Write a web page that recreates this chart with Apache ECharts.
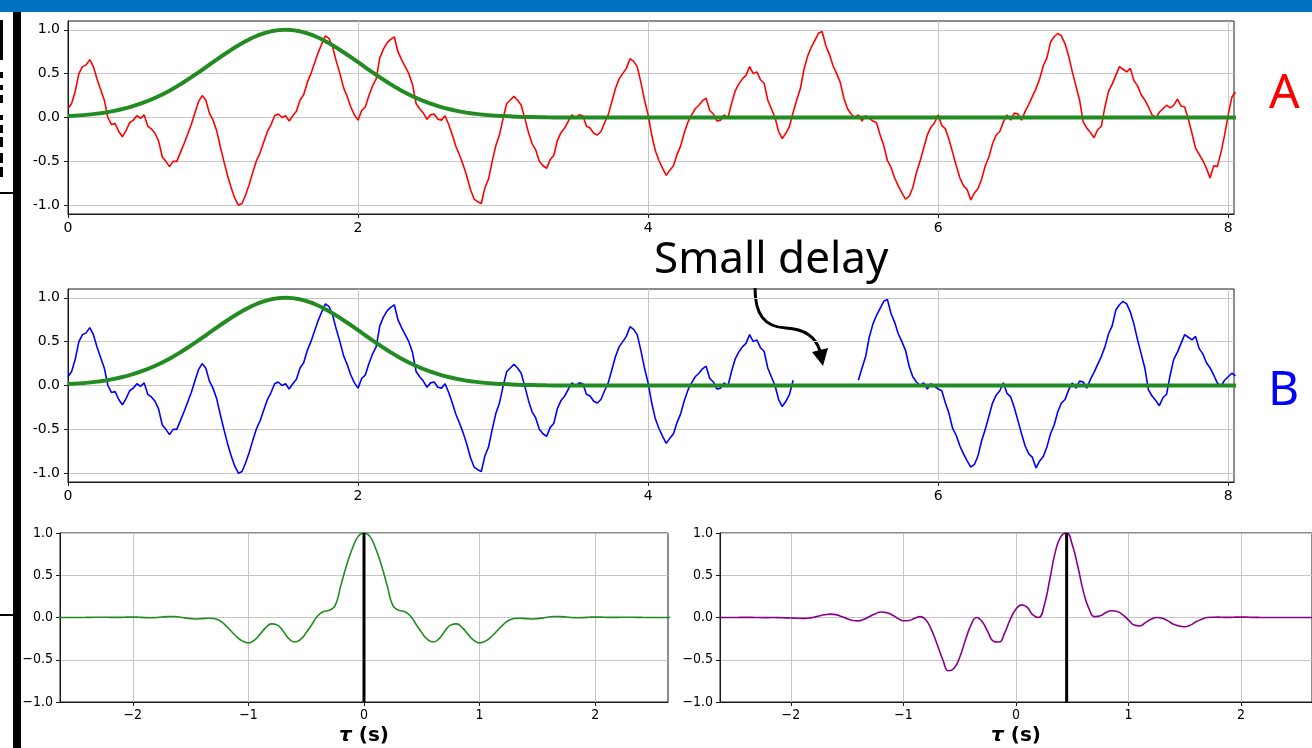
<!DOCTYPE html>
<html>
<head>
<meta charset="utf-8">
<script src="https://cdn.jsdelivr.net/npm/echarts@6/dist/echarts.min.js"></script>
<style>
  html, body { margin: 0; padding: 0; background: #ffffff; }
  #chart { width: 1312px; height: 748px; }
</style>
</head>
<body>
<div id="chart"></div>
<script>
// ---- signal A, sampled every dt seconds from t = 0 ----
const dt = 0.025;
const sigA = [
  0.10,0.16,0.30,0.50,0.58,0.60,0.66,0.58,0.44,0.32,0.20,0.00,-0.08,-0.07,-0.16,-0.22,-0.15,-0.06,-0.03,0.02,
  -0.01,0.03,-0.10,-0.13,-0.18,-0.27,-0.45,-0.50,-0.56,-0.50,-0.50,-0.40,-0.30,-0.19,-0.08,0.05,0.18,0.25,0.20,0.05,
  -0.03,-0.15,-0.33,-0.50,-0.66,-0.80,-0.92,-1.00,-0.98,-0.88,-0.76,-0.62,-0.49,-0.40,-0.28,-0.16,-0.08,0.02,0.04,0.00,
  0.02,-0.04,0.02,0.07,0.20,0.26,0.40,0.50,0.62,0.74,0.84,0.93,0.90,0.80,0.64,0.50,0.34,0.24,0.12,0.03,
  -0.03,0.08,0.12,0.25,0.36,0.44,0.68,0.78,0.85,0.89,0.92,0.75,0.66,0.58,0.50,0.38,0.16,0.10,0.05,-0.02,
  0.03,0.04,-0.02,-0.03,0.02,-0.08,-0.20,-0.33,-0.43,-0.54,-0.67,-0.82,-0.93,-0.96,-0.98,-0.80,-0.70,-0.50,-0.32,-0.20,
  -0.01,0.16,0.20,0.24,0.20,0.14,-0.01,-0.17,-0.30,-0.37,-0.50,-0.55,-0.58,-0.48,-0.43,-0.26,-0.17,-0.12,-0.04,0.03,
  -0.01,0.03,0.02,-0.10,-0.12,-0.18,-0.20,-0.16,-0.06,0.03,0.18,0.33,0.44,0.50,0.56,0.67,0.64,0.58,0.40,0.20,
  0.03,-0.20,-0.38,-0.49,-0.58,-0.66,-0.60,-0.55,-0.42,-0.32,-0.17,-0.05,0.03,0.10,0.14,0.19,0.22,0.08,0.04,-0.04,
  -0.03,0.03,-0.01,0.16,0.30,0.38,0.44,0.48,0.58,0.50,0.52,0.43,0.39,0.20,0.10,0.00,-0.16,-0.24,-0.18,-0.10,
  0.06,0.20,0.33,0.55,0.70,0.80,0.88,0.96,0.98,0.82,0.72,0.59,0.50,0.40,0.22,0.10,0.04,0.00,0.03,-0.04,
  0.02,-0.01,-0.04,-0.06,-0.20,-0.32,-0.49,-0.57,-0.69,-0.78,-0.86,-0.93,-0.90,-0.80,-0.63,-0.50,-0.35,-0.20,-0.11,-0.06,
  0.03,-0.09,-0.13,-0.25,-0.40,-0.55,-0.69,-0.78,-0.82,-0.94,-0.86,-0.81,-0.70,-0.55,-0.45,-0.30,-0.20,-0.16,-0.05,0.03,
  -0.03,0.05,0.04,-0.03,0.07,0.15,0.24,0.33,0.44,0.59,0.68,0.86,0.92,0.96,0.93,0.84,0.70,0.52,0.36,0.20,
  -0.05,-0.12,-0.17,-0.23,-0.14,-0.10,0.12,0.30,0.38,0.48,0.58,0.55,0.52,0.56,0.42,0.36,0.26,0.20,0.12,0.03,
  -0.01,0.06,0.10,0.14,0.11,0.14,0.21,0.13,0.12,-0.02,-0.18,-0.35,-0.42,-0.49,-0.58,-0.69,-0.55,-0.56,-0.40,-0.20,
  0.03,0.23,0.29
];

// ---- signal B: first part from t = 0, second part (after the gap) from bLateStart ----
const sigBEarly = [
  0.10,0.16,0.30,0.50,0.58,0.60,0.66,0.58,0.44,0.32,0.20,0.00,-0.08,-0.07,-0.16,-0.22,-0.15,-0.06,-0.03,0.02,
  -0.01,0.03,-0.10,-0.13,-0.18,-0.27,-0.45,-0.50,-0.56,-0.50,-0.50,-0.40,-0.30,-0.19,-0.08,0.05,0.18,0.25,0.20,0.05,
  -0.03,-0.15,-0.33,-0.50,-0.66,-0.80,-0.92,-1.00,-0.98,-0.88,-0.76,-0.62,-0.49,-0.40,-0.28,-0.16,-0.08,0.02,0.04,0.00,
  0.02,-0.04,0.02,0.07,0.20,0.26,0.40,0.50,0.62,0.74,0.84,0.93,0.90,0.80,0.64,0.50,0.34,0.24,0.12,0.03,
  -0.03,0.08,0.12,0.25,0.36,0.44,0.68,0.78,0.85,0.89,0.92,0.75,0.66,0.58,0.50,0.38,0.16,0.10,0.05,-0.02,
  0.03,0.04,-0.02,-0.03,0.02,-0.08,-0.20,-0.33,-0.43,-0.54,-0.67,-0.82,-0.93,-0.96,-0.98,-0.80,-0.70,-0.50,-0.32,-0.20,
  -0.01,0.16,0.20,0.24,0.20,0.14,-0.01,-0.17,-0.30,-0.37,-0.50,-0.55,-0.58,-0.48,-0.43,-0.26,-0.17,-0.12,-0.04,0.03,
  -0.01,0.03,0.02,-0.10,-0.12,-0.18,-0.20,-0.16,-0.06,0.03,0.18,0.33,0.44,0.50,0.56,0.67,0.64,0.58,0.40,0.20,
  0.03,-0.20,-0.38,-0.49,-0.58,-0.66,-0.60,-0.55,-0.42,-0.32,-0.17,-0.05,0.03,0.10,0.14,0.19,0.22,0.08,0.04,-0.04,
  -0.03,0.03,-0.01,0.16,0.30,0.38,0.44,0.48,0.58,0.50,0.52,0.43,0.39,0.20,0.10,0.00,-0.16,-0.24,-0.18,-0.10,
  0.06
];
const bLateStart = 5.45;
const sigBLate = [
  0.06,0.20,0.33,0.55,0.70,0.80,0.88,0.96,0.98,0.82,0.72,0.59,0.50,0.40,0.22,0.10,0.04,0.00,0.03,-0.04,
  0.02,-0.01,-0.04,-0.06,-0.20,-0.32,-0.49,-0.57,-0.69,-0.78,-0.86,-0.93,-0.90,-0.80,-0.63,-0.50,-0.35,-0.20,-0.11,-0.06,
  0.03,-0.09,-0.13,-0.25,-0.40,-0.55,-0.69,-0.78,-0.82,-0.94,-0.86,-0.81,-0.70,-0.55,-0.45,-0.30,-0.20,-0.16,-0.05,0.03,
  -0.03,0.05,0.04,-0.03,0.07,0.15,0.24,0.33,0.44,0.59,0.68,0.86,0.92,0.96,0.93,0.84,0.70,0.52,0.36,0.20,
  -0.05,-0.12,-0.17,-0.23,-0.14,-0.10,0.12,0.30,0.38,0.48,0.58,0.55,0.52,0.56,0.42,0.36,0.26,0.20,0.12,0.03,
  -0.01,0.06,0.10,0.14,0.11
];

// ---- window curve, sampled every winStep seconds from t = 0 ----
const winStep = 0.1;
const winVals = [
  0.016,0.027,0.044,0.070,0.107,0.157,0.224,0.306,0.404,0.514,
  0.630,0.744,0.847,0.929,0.982,1.000,0.982,0.929,0.847,0.744,
  0.630,0.514,0.404,0.306,0.224,0.157,0.107,0.070,0.044,0.027,
  0.016,0.009,0.005,0.002,0.001,0,0,0,0,0,
  0,0,0,0,0,0,0,0,0,0,
  0,0,0,0,0,0,0,0,0,0,
  0,0,0,0,0,0,0,0,0,0,
  0,0,0,0,0,0,0,0,0,0,
  0,0
];

// ---- correlation curves, lag from lagStart every lagStep seconds ----
const lagStart = -2.65;
const lagStep = 0.05;
const corrAA = [
  0,0,0,0,0,0.001,0.002,0.003,0.003,0.002,
  0.001,0.002,0.004,0.005,0.003,-0.001,-0.003,0.000,0.006,0.010,
  0.011,0.006,-0.004,-0.013,-0.017,-0.013,-0.008,-0.012,-0.035,-0.09,
  -0.16,-0.23,-0.28,-0.30,-0.27,-0.20,-0.12,-0.075,-0.09,-0.16,
  -0.25,-0.29,-0.26,-0.18,-0.08,0.02,0.07,0.085,0.14,0.38,
  0.62,0.82,0.96,1.00,
  0.96,0.82,0.62,0.38,0.14,0.085,0.07,0.02,-0.08,-0.18,
  -0.26,-0.29,-0.25,-0.16,-0.09,-0.075,-0.12,-0.20,-0.27,-0.30,
  -0.28,-0.23,-0.16,-0.09,-0.035,-0.012,-0.008,-0.013,-0.017,-0.013,
  -0.004,0.006,0.011,0.010,0.006,0.000,-0.003,-0.001,0.003,0.005,
  0.004,0.002,0.001,0.002,0.003,0.003,0.002,0.001,0,0,
  0,0,0
];
const corrAB = [
  0,0,0,0,0.001,0.001,0.001,0.000,-0.001,-0.001,
  0.000,-0.002,-0.004,-0.006,-0.008,-0.010,-0.008,0.002,0.018,0.032,
  0.040,0.034,0.012,-0.015,-0.035,-0.040,-0.022,0.012,0.045,0.065,
  0.058,0.030,-0.010,-0.038,-0.035,-0.008,0.010,-0.030,-0.15,-0.32,
  -0.50,-0.63,-0.60,-0.47,-0.27,-0.09,0.00,-0.05,-0.17,-0.28,
  -0.29,-0.18,-0.02,0.10,
  0.15,0.12,0.03,0.00,0.14,0.45,0.78,0.96,1.00,0.86,
  0.60,0.30,0.10,0.01,0.02,0.06,0.08,0.07,0.03,-0.03,
  -0.09,-0.10,-0.06,-0.02,0.00,-0.01,-0.04,-0.08,-0.10,-0.11,
  -0.09,-0.05,-0.02,0.00,0.003,0.004,0.002,0.002,0.004,0.005,
  0.004,0.002,0.001,0,0,0,0,0,0,0,
  0,0,0
];
const peakLagAA = 0;
const peakLagAB = 0.45;

// ---- tick values ----
const timeTicks = [0, 2, 4, 6, 8];
const ampTicks = [-1, -0.5, 0, 0.5, 1];
const lagTicks = [-2, -1, 0, 1, 2];

// ---- build [x, y] pairs ----
const pairs = (vals, x0, step) => vals.map((v, i) => [+(x0 + i * step).toFixed(4), v]);
const dataA = pairs(sigA, 0, dt);
const dataBEarly = pairs(sigBEarly, 0, dt);
const dataBLate = pairs(sigBLate, bLateStart, dt);
const dataWin = pairs(winVals, 0, winStep);
const dataAA = pairs(corrAA, lagStart, lagStep);
const dataAB = pairs(corrAB, lagStart, lagStep);

const GRID_COLOR = '#c6c6c6';
const FRAME = '#1a1a1a';
const TOP_FONT = { color: '#000', fontSize: 14, fontFamily: 'DejaVu Sans' };
const BOT_FONT = { color: '#000', fontSize: 14, fontFamily: "'DejaVu Sans Condensed', 'DejaVu Sans'" };
const minus = s => s.replace('-', '\u2212');

function timeAxis(idx) {
  return {
    gridIndex: idx, type: 'value', min: 0, max: 8.04,
    axisLine: { show: true, onZero: false, lineStyle: { color: FRAME, width: 1 } },
    axisTick: { show: true, length: 4, customValues: timeTicks, lineStyle: { color: FRAME } },
    axisLabel: Object.assign({ customValues: timeTicks, margin: 7, formatter: v => String(v) }, TOP_FONT),
    splitLine: { show: true, lineStyle: { color: GRID_COLOR, width: 1 } }
  };
}
function ampAxis(idx) {
  return {
    gridIndex: idx, type: 'value', min: -1.1, max: 1.1,
    axisLine: { show: true, onZero: false, lineStyle: { color: FRAME, width: 1 } },
    axisTick: { show: true, length: 4, customValues: ampTicks, lineStyle: { color: FRAME } },
    axisLabel: Object.assign({ customValues: ampTicks, margin: 8, formatter: v => v.toFixed(1) }, TOP_FONT),
    splitLine: { show: true, lineStyle: { color: GRID_COLOR, width: 1 } }
  };
}
function lagAxis(idx) {
  return {
    gridIndex: idx, type: 'value', min: -2.63, max: 2.63,
    name: '{t|\u03c4} (s)', nameLocation: 'middle', nameGap: 24,
    nameTextStyle: {
      color: '#000', fontSize: 20, fontWeight: 'bold', fontFamily: 'DejaVu Sans',
      rich: { t: { fontSize: 20, fontWeight: 'bold', fontStyle: 'italic', fontFamily: 'DejaVu Sans', color: '#000' } }
    },
    axisLine: { show: true, onZero: false, lineStyle: { color: FRAME, width: 1 } },
    axisTick: { show: true, length: 4, customValues: lagTicks, lineStyle: { color: FRAME } },
    axisLabel: Object.assign({ customValues: lagTicks, margin: 6, formatter: v => minus(String(v)) }, BOT_FONT),
    splitLine: { show: true, lineStyle: { color: GRID_COLOR, width: 1 } }
  };
}
function corrAxis(idx) {
  return {
    gridIndex: idx, type: 'value', min: -1, max: 1, interval: 0.5,
    axisLine: { show: true, onZero: false, lineStyle: { color: FRAME, width: 1 } },
    axisTick: { show: true, length: 4, lineStyle: { color: FRAME } },
    axisLabel: Object.assign({ margin: 7, formatter: v => minus(v.toFixed(1)) }, BOT_FONT),
    splitLine: { show: true, lineStyle: { color: GRID_COLOR, width: 1 } }
  };
}

const frame = { show: true, borderColor: FRAME, borderWidth: 1, backgroundColor: 'transparent' };

const lineSeries = (name, data, xi, color, width, z, smooth) => ({
  name, type: 'line', data, xAxisIndex: xi, yAxisIndex: xi,
  showSymbol: false, symbol: 'none', smooth: !!smooth, z,
  lineStyle: { color, width }, silent: true, animation: false
});

const option = {
  animation: false,
  backgroundColor: '#ffffff',
  grid: [
    Object.assign({ left: 68, top: 21, width: 1166, height: 193 }, frame),
    Object.assign({ left: 68, top: 289, width: 1166, height: 193 }, frame),
    Object.assign({ left: 60, top: 533, width: 608, height: 169 }, frame),
    Object.assign({ left: 720, top: 533, width: 612, height: 169 }, frame)
  ],
  xAxis: [timeAxis(0), timeAxis(1), lagAxis(2), lagAxis(3)],
  yAxis: [ampAxis(0), ampAxis(1), corrAxis(2), corrAxis(3)],
  series: [
    lineSeries('A', dataA, 0, '#ff0000', 1.6, 3),
    lineSeries('window A', dataWin, 0, '#228b22', 4, 4, true),
    lineSeries('B', dataBEarly, 1, '#0000ff', 1.6, 3),
    lineSeries('B delayed', dataBLate, 1, '#0000ff', 1.6, 3),
    lineSeries('window B', dataWin, 1, '#228b22', 4, 4, true),
    lineSeries('A ⋆ A', dataAA, 2, '#228b22', 1.6, 3, true),
    lineSeries('peak A ⋆ A', [[peakLagAA, -1], [peakLagAA, 1]], 2, '#000000', 3, 5),
    lineSeries('A ⋆ B', dataAB, 3, '#8b008b', 1.6, 3, true),
    lineSeries('peak A ⋆ B', [[peakLagAB, -1], [peakLagAB, 1]], 3, '#000000', 3, 5)
  ],
  graphic: [
    // header strip
    { type: 'rect', left: 0, top: 0, shape: { width: 1312, height: 12 }, style: { fill: '#0070c0' }, silent: true },
    // side rule and dividers
    { type: 'rect', shape: { x: 13, y: 12, width: 8, height: 736 }, style: { fill: '#000' }, silent: true },
    { type: 'rect', shape: { x: 0, y: 192, width: 13, height: 2 }, style: { fill: '#000' }, silent: true },
    { type: 'rect', shape: { x: 0, y: 614, width: 13, height: 2 }, style: { fill: '#000' }, silent: true },
    { type: 'rect', shape: { x: 0, y: 20, width: 3, height: 40 }, style: { fill: '#000' }, silent: true },
    { type: 'rect', shape: { x: 0, y: 72, width: 3, height: 6 }, style: { fill: '#000' }, silent: true },
    { type: 'rect', shape: { x: 0, y: 85, width: 3, height: 5 }, style: { fill: '#000' }, silent: true },
    { type: 'rect', shape: { x: 0, y: 95, width: 3, height: 8 }, style: { fill: '#000' }, silent: true },
    { type: 'rect', shape: { x: 0, y: 115, width: 3, height: 5 }, style: { fill: '#000' }, silent: true },
    { type: 'rect', shape: { x: 0, y: 125, width: 3, height: 8 }, style: { fill: '#000' }, silent: true },
    { type: 'rect', shape: { x: 0, y: 137, width: 3, height: 10 }, style: { fill: '#000' }, silent: true },
    { type: 'rect', shape: { x: 0, y: 153, width: 3, height: 10 }, style: { fill: '#000' }, silent: true },
    { type: 'rect', shape: { x: 0, y: 167, width: 3, height: 10 }, style: { fill: '#000' }, silent: true },
    // panel letters
    { type: 'text', style: { text: 'A', x: 1269, y: 94, fill: '#ff0000', font: '48px "Noto Sans"', textAlign: 'left', textVerticalAlign: 'middle' }, silent: true },
    { type: 'text', style: { text: 'B', x: 1268, y: 391, fill: '#0000ff', font: '48px "Noto Sans"', textAlign: 'left', textVerticalAlign: 'middle' }, silent: true },
    // annotation
    { type: 'text', style: { text: 'Small delay', x: 654, y: 260, fill: '#000', font: '44px "Noto Sans"', textAlign: 'left', textVerticalAlign: 'middle' }, silent: true },
    { type: 'bezierCurve', shape: { x1: 755, y1: 288, cpx1: 755, cpy1: 314, cpx2: 764, cpy2: 327, x2: 786, y2: 328 }, style: { stroke: '#000', lineWidth: 3, fill: null }, silent: true },
    { type: 'bezierCurve', shape: { x1: 786, y1: 328, cpx1: 805, cpy1: 329, cpx2: 816, cpy2: 338, x2: 820, y2: 351 }, style: { stroke: '#000', lineWidth: 3, fill: null }, silent: true },
    { type: 'polygon', shape: { points: [[812, 352], [828, 348], [823, 366]] }, style: { fill: '#000' }, silent: true }
  ]
};

const chart = echarts.init(document.getElementById('chart'), null, { renderer: 'canvas' });
chart.setOption(option);
</script>
</body>
</html>
